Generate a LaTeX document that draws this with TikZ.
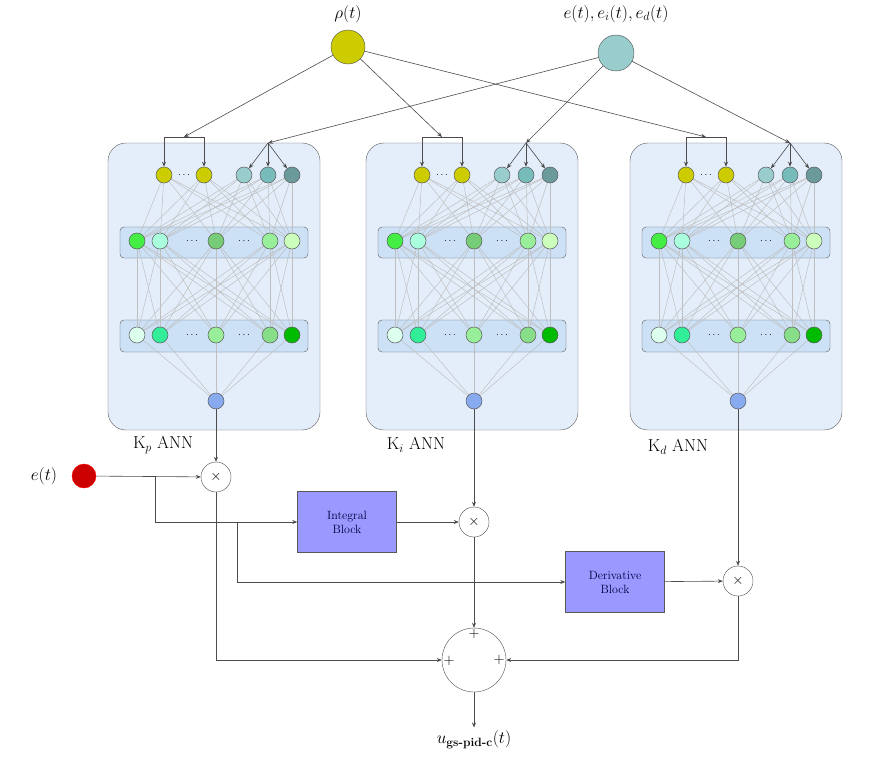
\documentclass[tikz,border=0pt]{standalone}
\usetikzlibrary{arrows.meta}
\begin{document}
\begin{tikzpicture}[x=1pt,y=-1pt,
  n/.style={circle,draw=gray!70!black,line width=0.5pt,minimum size=16pt,inner sep=0pt},
  wire/.style={draw=gray!60!black,line width=0.6pt},
  arr/.style={wire,-{Stealth[length=5pt,width=4pt]}},
  nn/.style={draw=gray!50,line width=0.5pt},
  blk/.style={draw=gray!70!black,fill={rgb,255:red,153;green,153;blue,255},minimum width=99pt,minimum height=61pt,font=\large,align=center,text=blue!25!black},
  mul/.style={circle,draw=gray!60!black,fill=white,minimum size=30pt,inner sep=0pt,font=\Large}]
\useasboundingbox (0,0) rectangle (888,760);
\definecolor{yel}{HTML}{CCCC00}\definecolor{tA}{HTML}{99CCCC}\definecolor{tB}{HTML}{77BBBB}\definecolor{tC}{HTML}{6A9A9A}
\definecolor{a1}{HTML}{44EE44}\definecolor{a2}{HTML}{AAFFDD}\definecolor{a3}{HTML}{77CC77}\definecolor{a4}{HTML}{99EE99}\definecolor{a5}{HTML}{CCFFBB}
\definecolor{b1}{HTML}{DDFFEE}\definecolor{b2}{HTML}{33EE99}\definecolor{b3}{HTML}{99EE99}\definecolor{b4}{HTML}{88DD88}\definecolor{b5}{HTML}{00BB00}
\definecolor{outc}{HTML}{88AAEE}\definecolor{bg1}{HTML}{E4EEFB}\definecolor{bg2}{HTML}{CCE0F6}
\node[circle,draw=gray!60!black,fill=yel,minimum size=34pt] (rho) at (348,47) {};
\node at (348,14) {\LARGE$\rho(t)$};
\node[circle,draw=gray!60!black,fill=tA,minimum size=36pt] (err) at (616,53) {};
\node at (616,14) {\LARGE$e(t),e_i(t),e_d(t)$};
\foreach \k/\o in {1/0,2/258,3/522}{
 \begin{scope}[shift={(\o,0)}]
 \draw[rounded corners=18pt,draw=gray!70!black,fill=bg1] (108,143) rectangle (320,430);
 \draw[rounded corners=4pt,draw=gray!70!black,fill=bg2] (120,227) rectangle (308,258);
 \draw[rounded corners=4pt,draw=gray!70!black,fill=bg2] (120,320) rectangle (308,352);
 \foreach \i/\x/\c in {1/164/yel,2/204/yel,3/244/tA,4/268/tB,5/292/tC}
   \coordinate (i\k\i) at (\x,175);
 \foreach \i/\x in {1/137,2/160,3/216,4/270,5/292}{
   \coordinate (h\k\i) at (\x,241);
   \coordinate (g\k\i) at (\x,335);}
 \coordinate (o\k) at (216,401);
 \foreach \a in {1,...,5}{\foreach \b in {1,...,5}{
   \draw[nn] (i\k\a) -- (h\k\b); \draw[nn] (h\k\a) -- (g\k\b);}
   \draw[nn] (g\k\a) -- (o\k);}
 \foreach \i/\c in {1/yel,2/yel,3/tA,4/tB,5/tC} \node[n,fill=\c] (I\k\i) at (i\k\i) {};
 \foreach \i/\c in {1/a1,2/a2,3/a3,4/a4,5/a5} \node[n,fill=\c] (H\k\i) at (h\k\i) {};
 \foreach \i/\c in {1/b1,2/b2,3/b3,4/b4,5/b5} \node[n,fill=\c] (G\k\i) at (g\k\i) {};
 \node[n,fill=outc] (O\k) at (o\k) {};
 \node at (184,175) {$\cdots$};
 \node at (192,241) {$\cdots$}; \node at (244,241) {$\cdots$};
 \node at (192,335) {$\cdots$}; \node at (244,335) {$\cdots$};
 \coordinate (yb\k) at (184,137);
 \coordinate (tb\k) at (268,143);
 \draw[wire] (164,137) -- (204,137);
 \draw[arr] (164,137) -- (I\k1); \draw[arr] (204,137) -- (I\k2);
 \draw[arr] (tb\k) -- (I\k3); \draw[arr] (tb\k) -- (I\k4); \draw[arr] (tb\k) -- (I\k5);
 \end{scope}
 \draw[arr] (rho) -- (yb\k);
 \draw[arr] (err) -- (tb\k);
}
\node at (163,445) {\LARGE K$_p$ ANN};
\node at (416,445) {\LARGE K$_i$ ANN};
\node at (678,447) {\LARGE K$_d$ ANN};
\node[circle,fill=red!80!black,draw=red,minimum size=24pt,inner sep=0pt] (et) at (84,476) {};
\node at (44,476) {\LARGE$e(t)$};
\node[mul] (m1) at (216,477) {$\times$};
\node[mul] (m2) at (474,522) {$\times$};
\node[mul] (m3) at (738,581) {$\times$};
\node[blk] (ib) at (347,522) {Integral\\Block};
\node[blk] (db) at (615,582) {Derivative\\Block};
\node[circle,draw=gray!60!black,minimum size=64pt,inner sep=0pt] (sum) at (474,660) {};
\node[font=\Large] at (474,634) {$+$};
\node[font=\Large] at (449,661) {$+$};
\node[font=\Large] at (499,660) {$+$};
\node (u) at (474,740) {\LARGE$u_{\mbox{\large\bfseries gs-pid-c}}(t)$};
\coordinate (br1) at (155,476);
\coordinate (br2) at (237,522);
\draw[arr] (O1) -- (m1);
\draw[arr] (O2) -- (m2);
\draw[arr] (O3) -- (m3);
\draw[arr] (et) -- (m1);
\draw[arr] (br1) |- (ib);
\draw[arr] (br2) |- (db);
\draw[arr] (ib) -- (m2);
\draw[arr] (db) -- (m3);
\draw[arr] (m1) |- (sum);
\draw[arr] (m2) -- (sum);
\draw[arr] (m3) |- (sum);
\draw[arr] (sum) -- (u);
\end{tikzpicture}
\end{document}
